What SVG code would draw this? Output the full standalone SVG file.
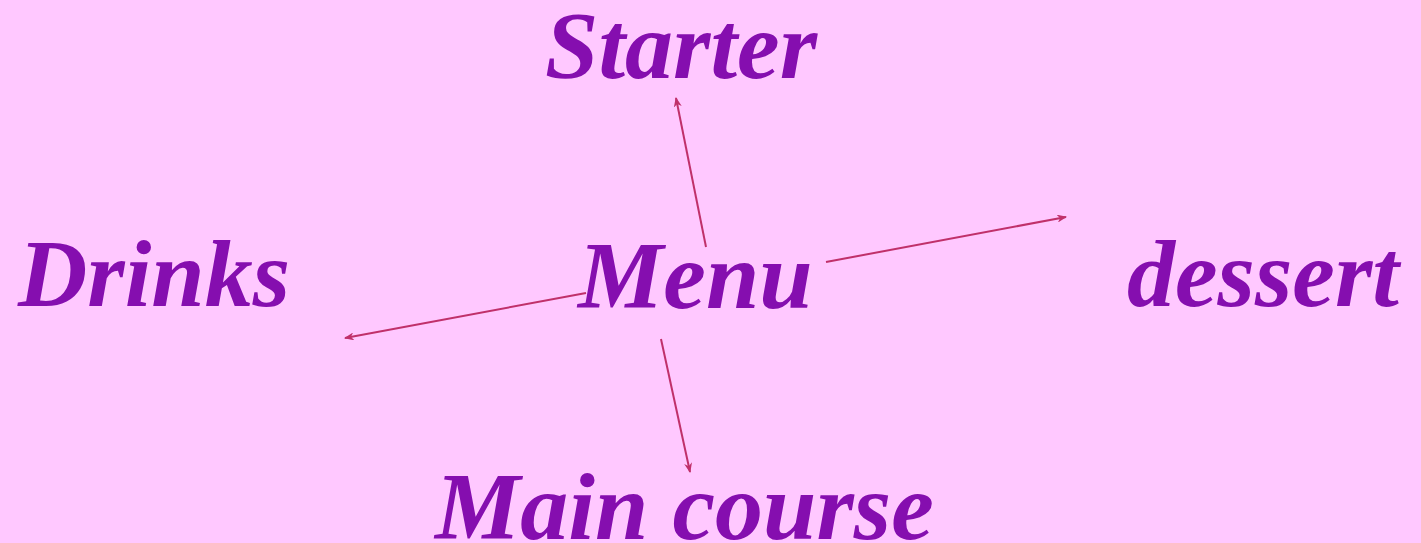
<svg xmlns="http://www.w3.org/2000/svg" width="1421" height="543" viewBox="0 0 1421 543">
<style>
.t{font-family:"Liberation Serif","Times New Roman",serif;font-weight:bold;font-style:italic;font-size:96px;fill:#850EAF}
.c{stroke:#C0306A;stroke-width:2;fill:none;marker-end:url(#a)}
</style>
<defs>
<marker id="a" viewBox="0 0 10 8" refX="9" refY="4" markerWidth="10" markerHeight="8" markerUnits="userSpaceOnUse" orient="auto">
<path d="M0,0 L10,4 L0,8 L3,4 Z" fill="#C0306A"/>
</marker>
</defs>
<rect width="1421" height="543" fill="#FFC8FF"/>
<g id="connectors">
<line class="c" x1="706" y1="247" x2="676" y2="98"/>
<line class="c" x1="826" y1="262" x2="1066" y2="217"/>
<line class="c" x1="586" y1="293" x2="345" y2="338"/>
<line class="c" x1="661" y1="339" x2="690" y2="472"/>
</g>
<g id="menu"><text class="t" x="578" y="308">Menu</text></g>
<g id="starter"><text class="t" x="545" y="78">Starter</text></g>
<g id="drinks"><text class="t" x="18" y="306">Drinks</text></g>
<g id="dessert"><text class="t" x="1127" y="306">dessert</text></g>
<g id="main"><text class="t" x="435" y="539">Main course</text></g>
</svg>
